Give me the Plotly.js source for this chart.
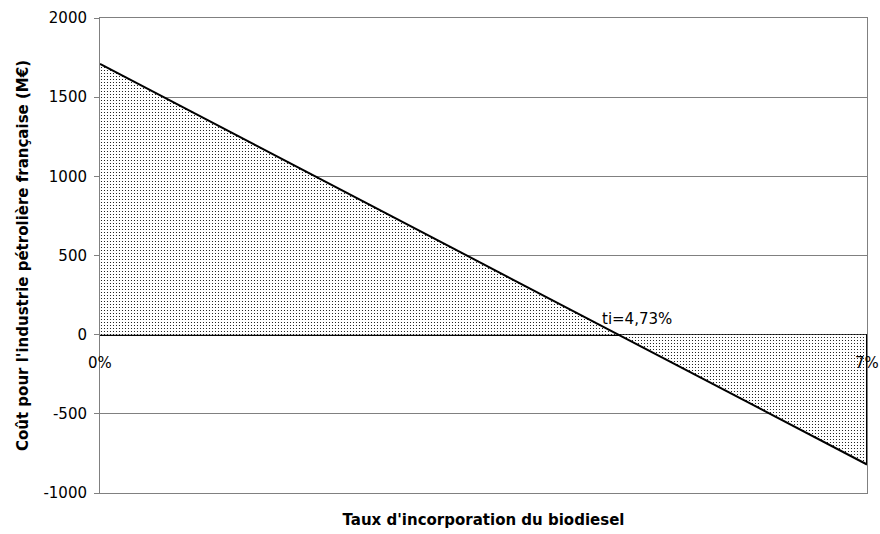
<!DOCTYPE html>
<html>
<head>
<meta charset="utf-8">
<script src="https://cdn.plot.ly/plotly-3.0.1.min.js"></script>
<style>html,body{margin:0;padding:0;background:#fff;}#chart{width:880px;height:534px;}</style>
</head>
<body>
<div id="chart"></div>
<script>
// Taux d'incorporation (%) and cost (M€)
const taux = [0, 4.73, 7];
const cout = [1710, 0, -820];
const yTicks = [-1000, -500, 0, 500, 1000, 1500, 2000];
const tiLabel = "ti=4,73%";
const endLabels = ["0%", "7%"];

const FONT = "'DejaVu Sans', Arial, sans-serif";

const traces = [
  {
    x: taux, y: cout, type: 'scatter', mode: 'lines',
    fill: 'tozeroy',
    fillcolor: 'rgba(255,255,255,0)',
    fillpattern: {shape: '.', size: 3, solidity: 0.12, fgcolor: '#000', bgcolor: '#fff'},
    line: {color: '#000', width: 2},
    hoverinfo: 'skip', showlegend: false
  },
  {
    x: [taux[2], taux[2]], y: [0, cout[2]], type: 'scatter', mode: 'lines',
    line: {color: '#000', width: 2}, hoverinfo: 'skip', showlegend: false
  }
];

const layout = {
  width: 880, height: 534,
  margin: {l: 100, r: 13, t: 18, b: 41},
  paper_bgcolor: '#fff', plot_bgcolor: '#fff',
  font: {family: FONT, size: 14, color: '#000'},
  showlegend: false,
  xaxis: {
    range: [0, 7], showgrid: false, zeroline: false,
    showticklabels: false, ticks: '',
    showline: true, linecolor: '#808080', linewidth: 1, mirror: true,
    title: {text: "<b>Taux d'incorporation du biodiesel</b>", font: {family: FONT, size: 15}, standoff: 21}
  },
  yaxis: {
    range: [-1000, 2000], tickvals: yTicks, ticktext: yTicks.map(String),
    showgrid: true, gridcolor: '#808080', gridwidth: 1,
    zeroline: true, zerolinecolor: '#000', zerolinewidth: 2,
    ticks: 'outside', ticklen: 5, tickcolor: '#808080',
    ticklabelstandoff: 4,
    showline: true, linecolor: '#808080', linewidth: 1, mirror: true,
    tickfont: {family: FONT, size: 15},
    title: {text: "<b>Coût pour l'industrie pétrolière française (M€)</b>", font: {family: FONT, size: 15}, standoff: 11}
  },
  annotations: [
    {x: taux[1], y: 0, text: tiLabel, showarrow: false, xanchor: 'left', yanchor: 'middle', xshift: -18, yshift: 16, font: {family: FONT, size: 15}},
    {x: taux[0], y: 0, text: endLabels[0], showarrow: false, xanchor: 'center', yanchor: 'middle', yshift: -28, font: {family: FONT, size: 15}},
    {x: taux[2], y: 0, text: endLabels[1], showarrow: false, xanchor: 'center', yanchor: 'middle', yshift: -28, font: {family: FONT, size: 15}}
  ]
};

Plotly.newPlot('chart', traces, layout, {displayModeBar: false, staticPlot: true});
</script>
</body>
</html>
